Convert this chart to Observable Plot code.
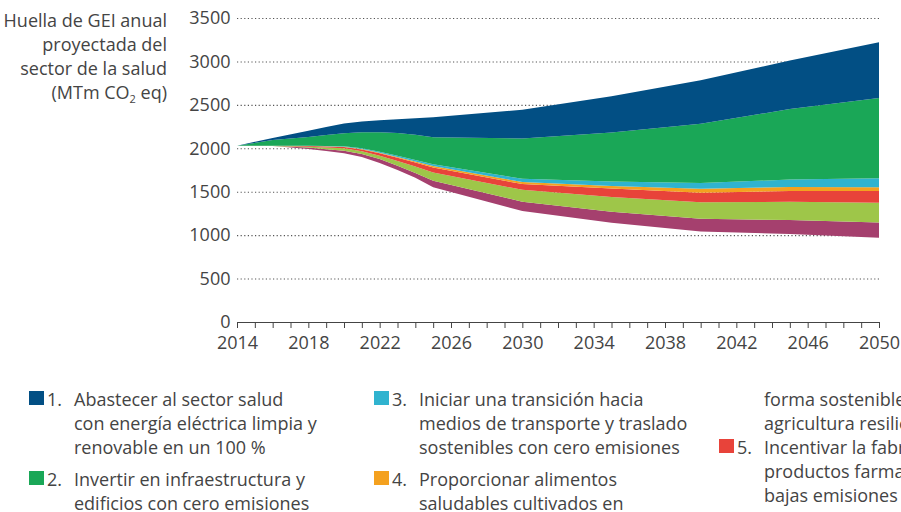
<!DOCTYPE html>
<html>
<head>
<meta charset="utf-8">
<script src="https://cdn.jsdelivr.net/npm/d3@7"></script>
<script src="https://cdn.jsdelivr.net/npm/@observablehq/plot@0.6"></script>
<style>
  html, body { margin: 0; padding: 0; background: #fff; overflow: hidden; }
  body { width: 901px; height: 512px; position: relative; font-family: "Open Sans", Lato, sans-serif; color: #444; }
  #ytitle { position: absolute; left: 0; top: 8px; width: 167px; text-align: right; font-size: 18px; line-height: 24px; color: #444; white-space: nowrap; }
  #ytitle sub { font-size: 11px; line-height: 0; vertical-align: -4px; }
  #chart { position: absolute; left: 0; top: 0; }
  .col { position: absolute; top: 387px; width: 330px; }
  .item { position: relative; padding-left: 45px; font-size: 18px; line-height: 24px; margin-bottom: 8px; white-space: nowrap; }
  .item.cont { margin-bottom: 0; }
  .sw { position: absolute; left: 0; top: 4px; width: 15px; height: 14px; }
  .num { position: absolute; left: 18px; top: 0; }
</style>
</head>
<body>
<div id="chart"></div>
<div id="ytitle">Huella de GEI anual<br>proyectada del<br>sector de la salud<br>(MTm CO<sub>2</sub> eq)</div>
<div id="legend"></div>
<script>
// ---- data (MTm CO2 eq) ----
const years     = [2014, 2016, 2018, 2019, 2020, 2021, 2022, 2023, 2024, 2025, 2030, 2035, 2040, 2045, 2050];
const remaining = [2030, 2025, 1992, 1968, 1942, 1900, 1830, 1750, 1660, 1550, 1279, 1142, 1042, 1012, 970];
const action7   = [0, 2, 16, 22, 30, 35, 47, 50, 55, 75, 106, 128, 148, 161, 177];     // purple
const action6   = [0, 1, 10, 20, 28, 30, 38, 55, 75, 97, 137, 170, 188, 212, 226];     // light green
const action5   = [0, 1, 7, 11, 14, 20, 28, 35, 45, 58, 66, 96, 111, 123, 135];        // red
const action4   = [0, 1, 2, 3, 4, 7, 7, 10, 13, 17, 24, 31, 44, 47, 43];               // orange
const action3   = [0, 0, 1, 3, 5, 8, 11, 15, 17, 18, 38, 51, 67, 85, 104];             // cyan
const action2   = [0, 66, 103, 127, 150, 185, 224, 262, 292, 312, 463, 563, 682, 812, 923]; // green
const action1   = [0, 23, 72, 92, 111, 122, 138, 158, 189, 231, 330, 419, 501, 558, 642];  // blue

const seriesNames  = ["Restante", "7", "6", "5", "4", "3", "2", "1"];
const seriesValues = [remaining, action7, action6, action5, action4, action3, action2, action1];
const seriesColors = ["none", "#a5406e", "#9ec649", "#e8433a", "#f4a11f", "#30b3cf", "#1aa757", "#024f84"];

const yTicks = [0, 500, 1000, 1500, 2000, 2500, 3000, 3500];
const xTicks = d3.range(2014, 2051, 1);
const xLabelStep = 4;

const legendItems = [
  {n: "1.", color: "#024f84", lines: ["Abastecer al sector salud", "con energía eléctrica limpia y", "renovable en un 100 %"]},
  {n: "2.", color: "#1aa757", lines: ["Invertir en infraestructura y", "edificios con cero emisiones"]},
  {n: "3.", color: "#30b3cf", lines: ["Iniciar una transición hacia", "medios de transporte y traslado", "sostenibles con cero emisiones"]},
  {n: "4.", color: "#f4a11f", lines: ["Proporcionar alimentos", "saludables cultivados en"], cont: ["forma sostenible y apoyar la", "agricultura resiliente"]},
  {n: "5.", color: "#e8433a", lines: ["Incentivar la fabricación de", "productos farmacéuticos con", "bajas emisiones de carbono"]}
];

// ---- table ----
const data = [];
seriesNames.forEach((s, i) => {
  years.forEach((yr, j) => data.push({year: yr, series: s, value: seriesValues[i][j]}));
});

const chart = Plot.plot({
  width: 901,
  height: 365,
  marginLeft: 237,
  marginRight: 22,
  marginTop: 18,
  marginBottom: 43,
  style: {fontSize: "18px", fontFamily: "'Open Sans', Lato, sans-serif", color: "#444", background: "transparent"},
  x: {domain: [2014, 2050], ticks: xTicks, tickSize: 6, tickPadding: 8,
      tickFormat: d => (d - 2014) % xLabelStep === 0 ? String(d) : "", label: null, line: true},
  y: {domain: [0, 3500], ticks: yTicks, tickSize: 0, tickPadding: 7, tickFormat: d => String(d), label: null},
  color: {domain: seriesNames, range: seriesColors},
  marks: [
    Plot.ruleY(yTicks.filter(d => d > 0), {stroke: "#555", strokeWidth: 1.1, strokeDasharray: "1.2,2.4"}),
    Plot.areaY(data, Plot.stackY({
      x: "year", y: "value", z: "series", fill: "series",
      order: seriesNames, curve: "linear"
    }))
  ]
});
document.getElementById("chart").appendChild(chart);

// ---- legend ----
const legend = document.getElementById("legend");
const colX = [29, 374, 719];
const cols = colX.map(x => {
  const c = document.createElement("div");
  c.className = "col";
  c.style.left = x + "px";
  legend.appendChild(c);
  return c;
});
function addItem(col, it, lines, withKey, cls) {
  const d = document.createElement("div");
  d.className = "item" + (cls ? " " + cls : "");
  if (withKey) {
    const sw = document.createElement("span");
    sw.className = "sw"; sw.style.background = it.color;
    const num = document.createElement("span");
    num.className = "num"; num.textContent = it.n;
    d.appendChild(sw); d.appendChild(num);
  }
  lines.forEach((l, i) => {
    if (i) d.appendChild(document.createElement("br"));
    d.appendChild(document.createTextNode(l));
  });
  col.appendChild(d);
}
addItem(cols[0], legendItems[0], legendItems[0].lines, true);
addItem(cols[0], legendItems[1], legendItems[1].lines, true);
addItem(cols[1], legendItems[2], legendItems[2].lines, true);
addItem(cols[1], legendItems[3], legendItems[3].lines, true);
addItem(cols[2], legendItems[3], legendItems[3].cont, false, "cont");
addItem(cols[2], legendItems[4], legendItems[4].lines, true);
</script>
</body>
</html>
